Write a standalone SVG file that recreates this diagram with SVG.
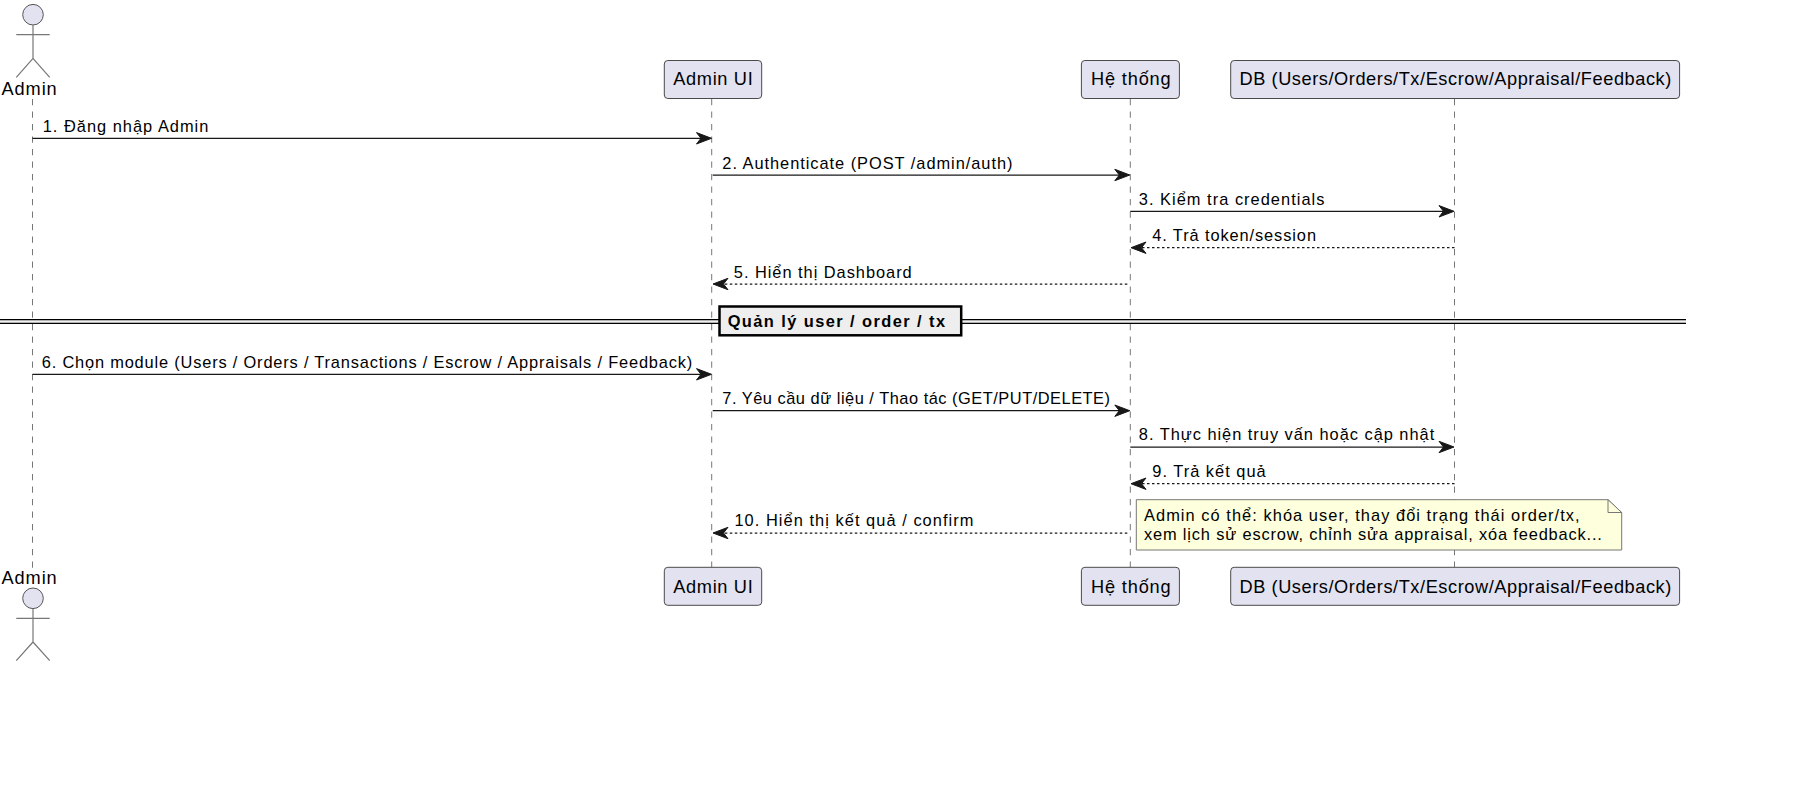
<svg xmlns="http://www.w3.org/2000/svg" width="1802" height="792" viewBox="0 0 1802 792">
<style>
text{font-family:"Liberation Sans",Arial,sans-serif;fill:#000}
.part{font-size:18.2px}
.msg{font-size:16.4px}
.div{font-size:16.4px;font-weight:bold}
.box{fill:#E2E2F0;stroke:#4a4a4a;stroke-width:1}
.life{fill:none;stroke:#777;stroke-width:1;stroke-dasharray:6.25 6.25}
.fig{fill:none;stroke:#777;stroke-width:1.2}
.head{fill:#E2E2F0;stroke:#555;stroke-width:1}
.a{fill:none;stroke:#181818;stroke-width:1.25;marker-end:url(#ah)}
.d{stroke-dasharray:2.5 2.5}
.note{fill:#FEFFDD;stroke:#777;stroke-width:1}
.dl{stroke:#000;stroke-width:1.25}
</style>
<defs>
<marker id="ah" markerUnits="userSpaceOnUse" markerWidth="20" markerHeight="16" refX="13" refY="8" orient="auto">
<path d="M16,8 L1,2.3 L5.5,8 L1,13.7 Z" fill="#181818" stroke="#181818" stroke-width="1"/>
</marker>
</defs>
<rect width="1802" height="792" fill="#fff"/>
<g id="lifelines">
<line class="life" x1="32.5" y1="99" x2="32.5" y2="568"/>
<line class="life" x1="711.7" y1="99" x2="711.7" y2="567"/>
<line class="life" x1="1130.3" y1="99" x2="1130.3" y2="567"/>
<line class="life" x1="1454.5" y1="99" x2="1454.5" y2="567"/>
</g>
<g id="divider">
<rect x="0" y="320" width="1686" height="3.5" fill="#EEEEEE"/>
<line class="dl" x1="0" y1="319.5" x2="1686" y2="319.5"/>
<line class="dl" x1="0" y1="323.3" x2="1686" y2="323.3"/>
<rect x="719.5" y="306.5" width="241.7" height="28.8" fill="#EEEEEE" stroke="#000" stroke-width="2.5"/>
<text class="div" x="727.7" y="326.7" textLength="217.3">Quản lý user / order / tx</text>
</g>
<g id="connectors">
<line class="a" x1="32.5" y1="138.3" x2="708.5" y2="138.3"/>
<line class="a" x1="712.7" y1="175" x2="1126.8" y2="175"/>
<line class="a" x1="1130.3" y1="211.3" x2="1451" y2="211.3"/>
<line class="a d" x1="1454.5" y1="247.7" x2="1134" y2="247.7"/>
<line class="a d" x1="1127.3" y1="284" x2="716" y2="284"/>
<line class="a" x1="32.5" y1="374.3" x2="708.5" y2="374.3"/>
<line class="a" x1="712.7" y1="410.7" x2="1126.8" y2="410.7"/>
<line class="a" x1="1130.3" y1="447" x2="1451" y2="447"/>
<line class="a d" x1="1454.5" y1="483.7" x2="1134" y2="483.7"/>
<line class="a d" x1="1127.3" y1="533" x2="716" y2="533"/>
</g>
<g id="labels">
<text class="msg" x="42.7" y="132.3" textLength="165.7">1. Đăng nhập Admin</text>
<text class="msg" x="722.3" y="169" textLength="290.2">2. Authenticate (POST /admin/auth)</text>
<text class="msg" x="1138.8" y="205" textLength="185.6">3. Kiểm tra credentials</text>
<text class="msg" x="1152.2" y="241" textLength="163.8">4. Trả token/session</text>
<text class="msg" x="733.8" y="277.7" textLength="177.9">5. Hiển thị Dashboard</text>
<text class="msg" x="41.7" y="367.7" textLength="650.5">6. Chọn module (Users / Orders / Transactions / Escrow / Appraisals / Feedback)</text>
<text class="msg" x="722.3" y="404" textLength="387.7">7. Yêu cầu dữ liệu / Thao tác (GET/PUT/DELETE)</text>
<text class="msg" x="1138.8" y="440" textLength="295.4">8. Thực hiện truy vấn hoặc cập nhật</text>
<text class="msg" x="1152.3" y="476.7" textLength="113.4">9. Trả kết quả</text>
<text class="msg" x="734.4" y="526.4" textLength="239">10. Hiển thị kết quả / confirm</text>
</g>
<g id="actor-admin-top">
<ellipse class="head" cx="33" cy="14.7" rx="10.3" ry="10.3"/>
<path class="fig" d="M33,25 V58.3 M16.3,34.7 H49.7 M16.3,77.3 L33,58.3 L49.7,77.3"/>
<text class="part" x="1.5" y="95" textLength="55.2">Admin</text>
</g>
<g id="actor-admin-bottom">
<text class="part" x="1.5" y="584" textLength="55.2">Admin</text>
<ellipse class="head" cx="33" cy="598.3" rx="10.3" ry="10.3"/>
<path class="fig" d="M33,608.6 V642 M16.3,618.3 H49.7 M16.3,660.7 L33,642 L49.7,660.7"/>
</g>
<g id="admin-ui-top">
<rect class="box" x="664.3" y="60.5" width="97.4" height="38" rx="3.5"/>
<text class="part" x="673.3" y="84.7" textLength="79.4">Admin UI</text>
</g>
<g id="he-thong-top">
<rect class="box" x="1081.4" y="60.5" width="98" height="38" rx="3.5"/>
<text class="part" x="1091" y="84.7" textLength="79.7">Hệ thống</text>
</g>
<g id="db-top">
<rect class="box" x="1230.7" y="60.5" width="448.9" height="38" rx="3.5"/>
<text class="part" x="1239.5" y="84.7" textLength="431.8">DB (Users/Orders/Tx/Escrow/Appraisal/Feedback)</text>
</g>
<g id="note">
<path class="note" d="M1136.3,499.7 H1608 L1621.7,512.5 V550 H1136.3 Z"/>
<path class="note" d="M1608,499.7 V512.5 H1621.7 Z"/>
<text class="msg" x="1144" y="521" textLength="435.6">Admin có thể: khóa user, thay đổi trạng thái order/tx,</text>
<text class="msg" x="1144" y="540" textLength="457.9">xem lịch sử escrow, chỉnh sửa appraisal, xóa feedback...</text>
</g>
<g id="admin-ui-bottom">
<rect class="box" x="664.3" y="567.3" width="97.4" height="38" rx="3.5"/>
<text class="part" x="673.3" y="592.7" textLength="79.4">Admin UI</text>
</g>
<g id="he-thong-bottom">
<rect class="box" x="1081.4" y="567.3" width="98" height="38" rx="3.5"/>
<text class="part" x="1091" y="592.7" textLength="79.7">Hệ thống</text>
</g>
<g id="db-bottom">
<rect class="box" x="1230.7" y="567.3" width="448.9" height="38" rx="3.5"/>
<text class="part" x="1239.5" y="592.7" textLength="431.8">DB (Users/Orders/Tx/Escrow/Appraisal/Feedback)</text>
</g>
</svg>
